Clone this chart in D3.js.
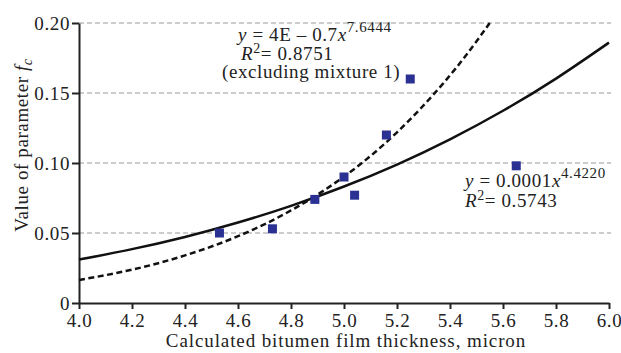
<!DOCTYPE html>
<html>
<head>
<meta charset="utf-8">
<script src="https://cdn.jsdelivr.net/npm/d3@7"></script>
<style>
  body { margin: 0; background: #fff; }
  svg text { font-family: "Liberation Serif", "DejaVu Serif", serif; fill: #222; letter-spacing: 0.6px; }
</style>
</head>
<body>
<div id="chart"></div>
<script>
// measured points: film thickness (micron) vs f_c
const thickness = [4.53, 4.73, 4.89, 5.00, 5.04, 5.16, 5.25, 5.65];
const fcValues = [0.050, 0.053, 0.074, 0.090, 0.077, 0.120, 0.160, 0.098];

// trend lines
const solidX = [4.0, 4.2, 4.4, 4.6, 4.8, 5.0, 5.2, 5.4, 5.6, 5.8, 6.0];
const solidY = [0.031, 0.0385, 0.0472, 0.0575, 0.0694, 0.0832, 0.0989, 0.1169, 0.1373, 0.1603, 0.1860];
const dashX = [4.0, 4.2, 4.4, 4.6, 4.8, 5.0, 5.2, 5.4, 5.55];
const dashY = [0.0164, 0.0238, 0.0340, 0.0477, 0.0661, 0.0903, 0.1219, 0.1626, 0.2000];

const xTicks = [4.0, 4.2, 4.4, 4.6, 4.8, 5.0, 5.2, 5.4, 5.6, 5.8, 6.0];
const yTicks = [0, 0.05, 0.10, 0.15, 0.20];

const width = 621, height = 353;
const x = d3.scaleLinear().domain([4.0, 6.0]).range([79, 609]);
const y = d3.scaleLinear().domain([0, 0.20]).range([303, 23]);

const svg = d3.select('#chart').append('svg')
  .attr('width', width)
  .attr('height', height);

// gridlines
svg.append('g')
  .selectAll('line')
  .data(yTicks.filter(d => d > 0))
  .enter()
  .append('line')
  .attr('x1', x(4.0))
  .attr('x2', 611)
  .attr('y1', d => y(d))
  .attr('y2', d => y(d))
  .attr('stroke', '#999')
  .attr('stroke-width', 1)
  .attr('stroke-dasharray', '5,3');

// axes
const xAxis = svg.append('g')
  .attr('transform', `translate(0,${y(0)})`)
  .call(d3.axisBottom(x).tickValues(xTicks).tickFormat(d3.format('.1f')).tickSizeInner(6).tickSizeOuter(0).tickPadding(3));
const yAxis = svg.append('g')
  .attr('transform', `translate(${x(4.0)},0)`)
  .call(d3.axisLeft(y).tickValues(yTicks).tickFormat(d => d === 0 ? '0' : d3.format('.2f')(d)).tickSizeInner(7).tickSizeOuter(0).tickPadding(2));

[xAxis, yAxis].forEach(g => {
  g.select('.domain').attr('stroke', '#222').attr('stroke-width', 2);
  g.selectAll('.tick line').attr('stroke', '#222').attr('stroke-width', 2);
  g.selectAll('.tick text').attr('font-size', 19).attr('fill', '#222')
    .style('font-family', '"Liberation Serif", serif');
});
xAxis.selectAll('.tick text').attr('dy', '0.8em');
yAxis.selectAll('.tick text').attr('dy', '0.34em');

// trend lines
const line = d3.line().x(d => x(d[0])).y(d => y(d[1])).curve(d3.curveNatural);
svg.append('path')
  .datum(solidX.map((v, i) => [v, solidY[i]]))
  .attr('d', line)
  .attr('fill', 'none')
  .attr('stroke', '#111')
  .attr('stroke-width', 2.5);
svg.append('path')
  .datum(dashX.map((v, i) => [v, dashY[i]]))
  .attr('d', line)
  .attr('fill', 'none')
  .attr('stroke', '#111')
  .attr('stroke-width', 2.5)
  .attr('stroke-dasharray', '6,3.5');

// points
const sz = 9;
svg.selectAll('rect.pt')
  .data(thickness)
  .enter()
  .append('rect')
  .attr('class', 'pt')
  .attr('x', (d) => x(d) - sz / 2)
  .attr('y', (d, i) => y(fcValues[i]) - sz / 2)
  .attr('width', sz)
  .attr('height', sz)
  .attr('fill', '#2b3192');

// equation labels
function eq(xPos, yPos, coef, power) {
  const t = svg.append('text').attr('x', xPos).attr('y', yPos).attr('font-size', 19);
  t.append('tspan').attr('font-style', 'italic').text('y');
  t.append('tspan').text(' = ' + coef);
  t.append('tspan').attr('font-style', 'italic').text('x');
  t.append('tspan').attr('dy', -9).attr('font-size', 15).text(power);
}
function r2(xPos, yPos, val) {
  const t = svg.append('text').attr('x', xPos).attr('y', yPos).attr('font-size', 19);
  t.append('tspan').attr('font-style', 'italic').text('R');
  t.append('tspan').attr('dy', -7).attr('font-size', 14).text('2');
  t.append('tspan').attr('dy', 7).text('= ' + val);
}
eq(238, 41, '4E \u2013 0.7', '7.6444');
r2(241, 60, '0.8751');
svg.append('text').attr('x', 222).attr('y', 78).attr('font-size', 19).text('(excluding mixture 1)');
eq(465, 187, '0.0001', '4.4220');
r2(465, 207, '0.5743');

// axis titles
svg.append('text')
  .attr('x', (x(4.0) + x(6.0)) / 2 + 2)
  .attr('y', 347)
  .attr('text-anchor', 'middle')
  .attr('font-size', 19)
  .style('letter-spacing', '0.9px')
  .text('Calculated bitumen film thickness, micron');

const yt = svg.append('text')
  .attr('transform', 'translate(28,145) rotate(-90)')
  .attr('text-anchor', 'middle')
  .attr('font-size', 19);
yt.append('tspan').text('Value of parameter ');
yt.append('tspan').attr('font-style', 'italic').text('f');
yt.append('tspan').attr('font-style', 'italic').attr('font-size', 14).attr('dy', 4).text('c');
</script>
</body>
</html>
